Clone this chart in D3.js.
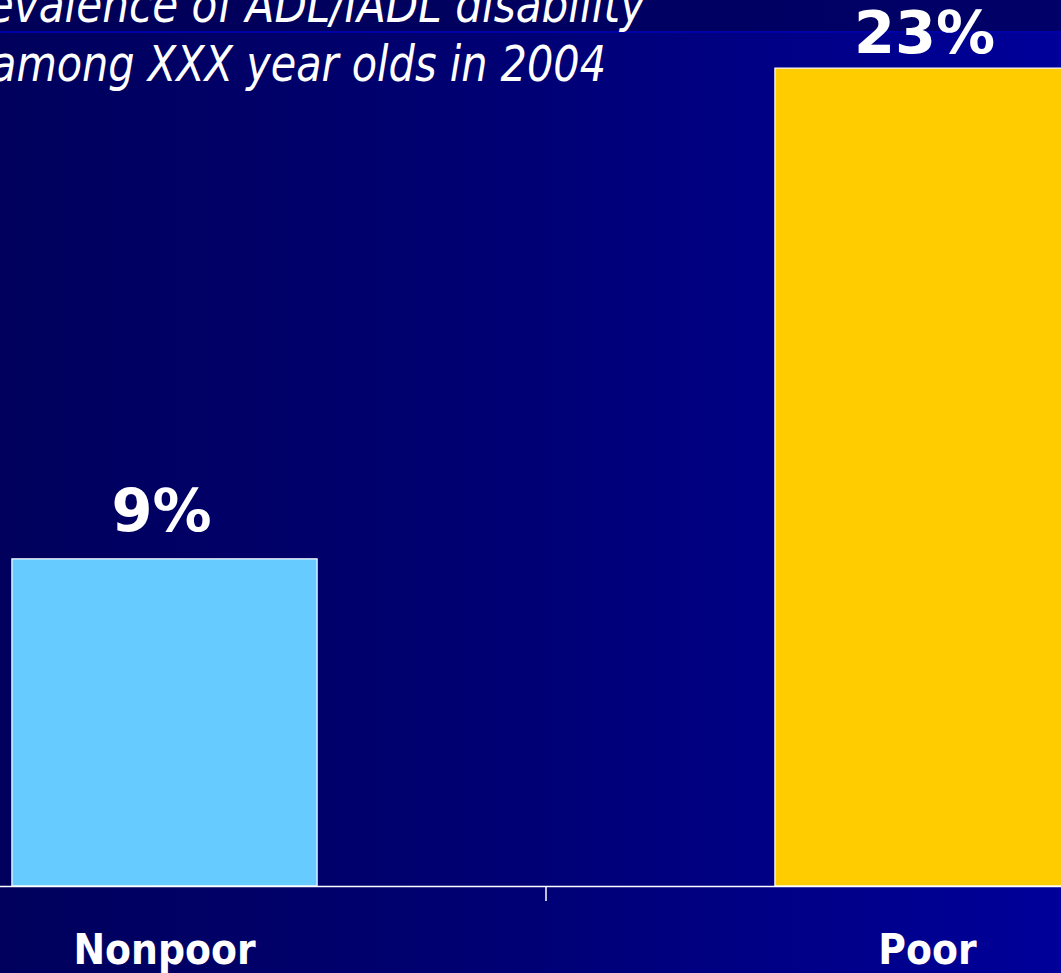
<!DOCTYPE html>
<html>
<head>
<meta charset="utf-8">
<script src="https://cdn.jsdelivr.net/npm/d3@7"></script>
<style>
  html, body { margin: 0; padding: 0; background: #000066; overflow: hidden; }
  svg { display: block; }
</style>
</head>
<body>
<div id="chart"></div>
<script>
// ---- data ----
const titleLines = ["Prevalence of ADL/IADL disability", "among XXX year olds in 2004"];
const categories = ["Nonpoor", "Poor"];
const values = [9.2, 23.0];           // percent
const barColors = ["#66CCFF", "#FFCC00"];

// ---- layout ----
const W = 1061, H = 973;
const baseY = 886;

const svg = d3.select("#chart").append("svg")
  .attr("width", W).attr("height", H);

const defs = svg.append("defs");
const g1 = defs.append("linearGradient").attr("id", "bg").attr("x1", 0).attr("x2", 1).attr("y1", 0).attr("y2", 0);
g1.append("stop").attr("offset", 0).attr("stop-color", "#00005C");
g1.append("stop").attr("offset", 0.5).attr("stop-color", "#000075");
g1.append("stop").attr("offset", 1).attr("stop-color", "#00009A");
const g2 = defs.append("linearGradient").attr("id", "band").attr("x1", 0).attr("x2", 1).attr("y1", 0).attr("y2", 0);
g2.append("stop").attr("offset", 0).attr("stop-color", "#000058");
g2.append("stop").attr("offset", 1).attr("stop-color", "#000068");

svg.append("rect").attr("width", W).attr("height", H).attr("fill", "url(#bg)");
svg.append("rect").attr("width", W).attr("height", 31).attr("fill", "url(#band)");
svg.append("rect").attr("y", 31).attr("width", W).attr("height", 2).attr("fill", "#0000A8");

// scales
const x = d3.scaleBand().domain(categories).range([-217, 1309]).paddingInner(0.6).paddingOuter(0.3);
const y = d3.scaleLinear().domain([0, 25]).range([baseY, -3]);

// bars
svg.selectAll("rect.bar").data(categories).join("rect")
  .attr("class", "bar")
  .attr("x", d => x(d))
  .attr("y", (d, i) => y(values[i]))
  .attr("width", x.bandwidth())
  .attr("height", (d, i) => y(0) - y(values[i]))
  .attr("fill", (d, i) => barColors[i])
  .attr("stroke", "#FFFFFF")
  .attr("stroke-width", 1.2);

// axis line & category boundary ticks
svg.append("line").attr("x1", 0).attr("x2", W).attr("y1", baseY + 0.5).attr("y2", baseY + 0.5)
  .attr("stroke", "#FFFFFF").attr("stroke-width", 1.5);
const boundaries = categories.slice(1).map(c => x(c) - x.step() * x.paddingInner() / 2);
svg.selectAll("line.tick").data(boundaries).join("line")
  .attr("class", "tick")
  .attr("x1", d => d).attr("x2", d => d)
  .attr("y1", baseY).attr("y2", baseY + 15)
  .attr("stroke", "#FFFFFF").attr("stroke-width", 1.5);

// category labels
svg.selectAll("text.cat").data(categories).join("text")
  .attr("class", "cat")
  .attr("x", d => x(d) + x.bandwidth() / 2)
  .attr("y", 964)
  .attr("text-anchor", "middle")
  .attr("fill", "#FFFFFF")
  .attr("font-family", "'DejaVu Sans Condensed', 'DejaVu Sans', sans-serif")
  .attr("font-stretch", "condensed")
  .attr("font-weight", "bold")
  .attr("font-size", 42)
  .text(d => d);

// value labels
svg.selectAll("text.val").data(categories).join("text")
  .attr("class", "val")
  .attr("x", d => x(d) + x.bandwidth() / 2 - 3)
  .attr("y", (d, i) => Math.max(y(values[i]) - 28, 53))
  .attr("text-anchor", "middle")
  .attr("fill", "#FFFFFF")
  .attr("font-family", "'DejaVu Sans', sans-serif")
  .attr("font-weight", "bold")
  .attr("font-size", 59)
  .text((d, i) => d3.format(".0f")(values[i]) + "%");

// title
const titleEnds = [645, 606];
const titleLens = [700, 615];
svg.selectAll("text.title").data(titleLines).join("text")
  .attr("class", "title")
  .attr("x", (d, i) => titleEnds[i] - titleLens[i])
  .attr("y", (d, i) => 22 + i * 59)
  .attr("textLength", (d, i) => titleLens[i])
  .attr("lengthAdjust", "spacingAndGlyphs")
  .attr("fill", "#FFFFFF")
  .attr("font-family", "'DejaVu Sans Condensed', 'DejaVu Sans', sans-serif")
  .attr("font-stretch", "condensed")
  .attr("font-style", "italic")
  .attr("font-size", 49)
  .text(d => d);
</script>
</body>
</html>
